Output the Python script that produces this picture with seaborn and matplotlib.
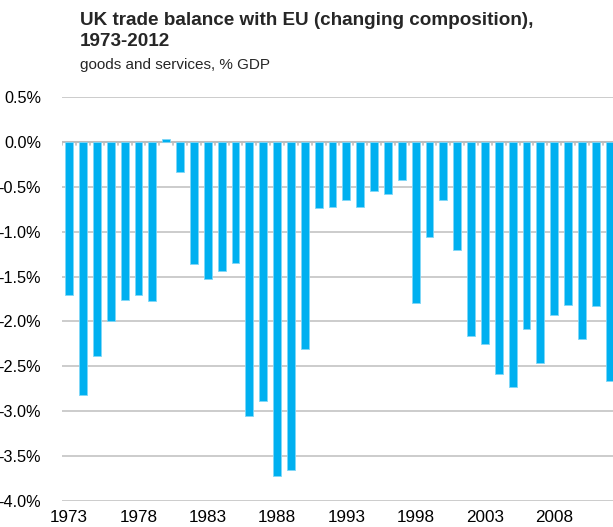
import matplotlib
matplotlib.use("Agg")
import matplotlib.pyplot as plt
import seaborn as sns
import pandas as pd
import numpy as np

years = list(range(1973, 2013))
balance = [-1.70, -2.82, -2.38, -2.00, -1.76, -1.70, -1.77, 0.03, -0.34, -1.36,
           -1.53, -1.44, -1.35, -3.05, -2.89, -3.72, -3.66, -2.31, -0.74, -0.72,
           -0.65, -0.72, -0.55, -0.58, -0.43, -1.79, -1.06, -0.65, -1.20, -2.16,
           -2.25, -2.59, -2.73, -2.08, -2.46, -1.93, -1.82, -2.19, -1.83, -2.66]
tick_years = [1973, 1978, 1983, 1988, 1993, 1998, 2003, 2008]
y_ticks = [0.5, 0.0, -0.5, -1.0, -1.5, -2.0, -2.5, -3.0, -3.5, -4.0]

title = "UK trade balance with EU (changing composition),\n1973-2012"
subtitle = "goods and services, % GDP"

df = pd.DataFrame({"year": [str(y) for y in years], "balance": balance})

sns.set_theme(style="white")
plt.rcParams['font.family'] = ['Liberation Sans', 'DejaVu Sans']

W, H = 613, 527
fig = plt.figure(figsize=(W / 100, H / 100), dpi=100)
ax = fig.add_axes([62 / W, 1 - 501 / H, (W - 62) / W, (501 - 97) / H])

sns.barplot(data=df, x="year", y="balance", color="#00B0F0", width=0.57,
            edgecolor="#7FD7F7", linewidth=0.6, saturation=1, ax=ax, zorder=3)

ax.set_ylim(-4.0, 0.5)
ax.set_xlim(-0.52, 39.24)
ax.set_yticks(y_ticks)
ax.set_yticklabels([f"{v:.1f}%" for v in y_ticks])
ax.yaxis.grid(True, color="#C4C4C4", linewidth=1.2, zorder=0)
ax.set_axisbelow(True)

pos = [years.index(y) for y in tick_years]
ax.set_xticks(pos)
ax.set_xticklabels([str(y) for y in tick_years])
ax.tick_params(axis="x", length=0, pad=6.5, labelsize=12.3, colors="black")
ax.tick_params(axis="y", length=0, pad=15, labelsize=11.7, colors="black")
ax.set_xlabel("")
ax.set_ylabel("")
for s in ax.spines.values():
    s.set_visible(False)

# zero axis line with small category ticks
ax.axhline(0, color="#BDBDBD", linewidth=1.5, zorder=2)
for i in range(len(years) + 1):
    ax.plot([i - 0.5, i - 0.5], [0, -0.04], color="#BDBDBD", linewidth=1.2,
            zorder=2, clip_on=True)

fig.text(80 / W, 1 - 12 / H, title, fontsize=13.6, fontweight="bold", va="top",
         ha="left", linespacing=1.3)
fig.text(80 / W, 1 - 58 / H, subtitle, fontsize=11, va="top", ha="left")

fig.savefig("out.png", dpi=100)
